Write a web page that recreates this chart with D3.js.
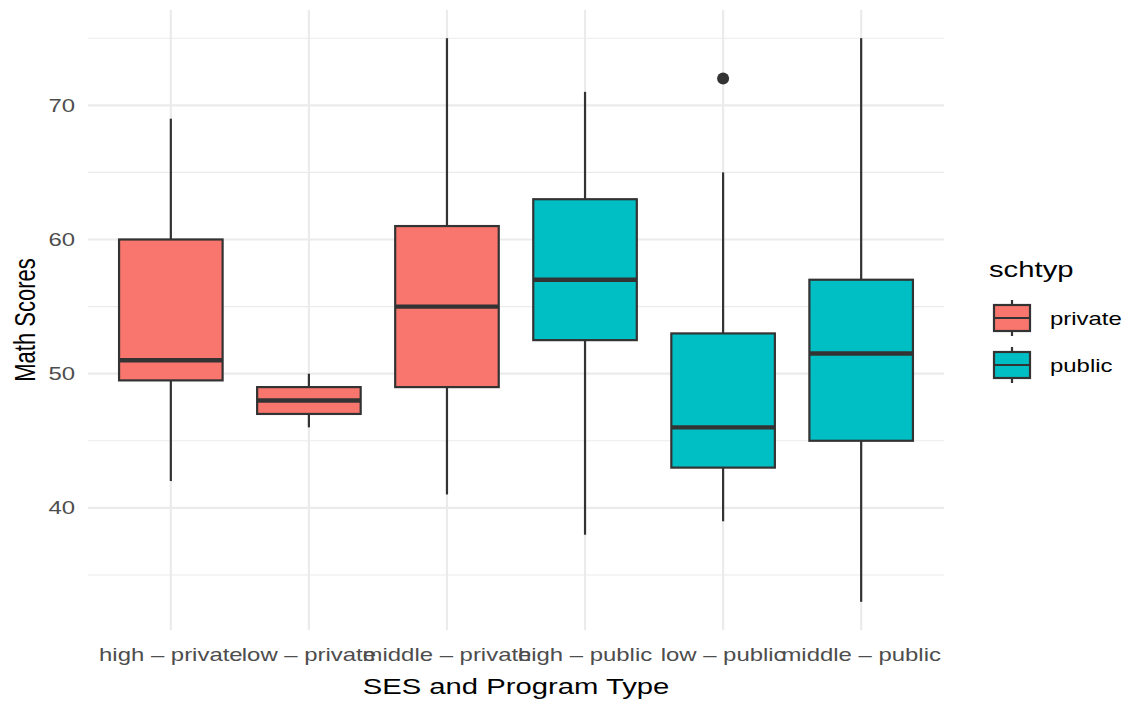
<!DOCTYPE html>
<html>
<head>
<meta charset="utf-8">
<script src="https://cdn.jsdelivr.net/npm/d3@7"></script>
<style>
  html, body { margin: 0; padding: 0; background: #fff; }
  svg { display: block; font-family: "Liberation Sans", Arial, Helvetica, sans-serif; }
</style>
</head>
<body>
<svg id="chart" width="1126" height="702"></svg>
<script>
// Group labels (SES – program type) and their school type
const categories = ["high – private", "low – private", "middle – private",
                    "high – public", "low – public", "middle – public"];
const schtyp = ["private", "private", "private", "public", "public", "public"];

// Five-number summaries per group
const whiskerLow  = [42, 46, 41, 38, 39, 33];
const q1          = [49.5, 47, 49, 52.5, 43, 45];
const median      = [51, 48, 55, 57, 46, 51.5];
const q3          = [60, 49, 61, 63, 53, 57];
const whiskerHigh = [69, 50, 75, 71, 65, 75];

// Outlying points
const outlierGroup = ["low – public"];
const outlierValue = [72];

const yTicks = [40, 50, 60, 70];
const yMinor = [35, 45, 55, 65, 75];
const legendLevels = ["private", "public"];
const fillColors = ["#F8766D", "#00BFC4"];

const svg = d3.select("#chart");
const W = 1126, H = 702;
const margin = { left: 88, right: W - 944, top: 10, bottom: H - 630 };
const TEXT_STRETCH = 1.33;   // wide text rendering

const plotL = margin.left, plotR = W - margin.right;
const plotT = margin.top, plotB = H - margin.bottom;

// Discrete x positions with 0.6-step expansion on each side
const x = d3.scalePoint()
  .domain(categories)
  .range([plotL, plotR])
  .padding(0.6);
const step = x.step();

const yMinData = d3.min(whiskerLow), yMaxData = d3.max(whiskerHigh);
const pad = (yMaxData - yMinData) * 0.05;
const y = d3.scaleLinear()
  .domain([yMinData - pad, yMaxData + pad])
  .range([plotB, plotT]);

const fill = d3.scaleOrdinal().domain(legendLevels).range(fillColors);

// Places a text element at (px, py) with the wide text rendering
function place(sel, px, py, rot) {
  return sel.attr("transform", (d, i) => {
    const xx = typeof px === "function" ? px(d, i) : px;
    const yy = typeof py === "function" ? py(d, i) : py;
    return `translate(${xx},${yy}) scale(${TEXT_STRETCH},1)` + (rot ? ` rotate(${rot})` : "");
  });
}

// Gridlines
const grid = svg.append("g");
grid.selectAll(".minor").data(yMinor).join("line")
  .attr("x1", plotL).attr("x2", plotR)
  .attr("y1", d => y(d)).attr("y2", d => y(d))
  .attr("stroke", "#ebebeb").attr("stroke-width", 1.1);
grid.selectAll(".major").data(yTicks).join("line")
  .attr("x1", plotL).attr("x2", plotR)
  .attr("y1", d => y(d)).attr("y2", d => y(d))
  .attr("stroke", "#ebebeb").attr("stroke-width", 2.2);
grid.selectAll(".vmajor").data(categories).join("line")
  .attr("x1", d => x(d)).attr("x2", d => x(d))
  .attr("y1", plotT).attr("y2", plotB)
  .attr("stroke", "#ebebeb").attr("stroke-width", 2.2);

// Boxplots
const boxW = step * 0.75;
const ink = "#333333";
const boxes = svg.append("g");
categories.forEach((c, i) => {
  const cx = x(c);
  const g = boxes.append("g");
  g.append("line")
    .attr("x1", cx).attr("x2", cx)
    .attr("y1", y(whiskerHigh[i])).attr("y2", y(q3[i]))
    .attr("stroke", ink).attr("stroke-width", 2.2);
  g.append("line")
    .attr("x1", cx).attr("x2", cx)
    .attr("y1", y(q1[i])).attr("y2", y(whiskerLow[i]))
    .attr("stroke", ink).attr("stroke-width", 2.2);
  g.append("rect")
    .attr("x", cx - boxW / 2).attr("width", boxW)
    .attr("y", y(q3[i])).attr("height", y(q1[i]) - y(q3[i]))
    .attr("fill", fill(schtyp[i])).attr("stroke", ink).attr("stroke-width", 2.2);
  g.append("line")
    .attr("x1", cx - boxW / 2).attr("x2", cx + boxW / 2)
    .attr("y1", y(median[i])).attr("y2", y(median[i]))
    .attr("stroke", ink).attr("stroke-width", 4.4);
});

// Outliers
svg.append("g").selectAll("circle").data(outlierValue).join("circle")
  .attr("cx", (d, i) => x(outlierGroup[i]))
  .attr("cy", d => y(d))
  .attr("r", 6)
  .attr("fill", ink);

// Y axis labels
place(svg.append("g").selectAll("text").data(yTicks).join("text"),
      plotL - 13, d => y(d))
  .attr("dy", "0.35em")
  .attr("text-anchor", "end")
  .attr("font-size", 18).attr("fill", "#4d4d4d")
  .text(d => d);

// X axis labels
place(svg.append("g").selectAll("text").data(categories).join("text"),
      d => x(d), plotB + 31)
  .attr("text-anchor", "middle")
  .attr("font-size", 18).attr("fill", "#4d4d4d")
  .text(d => d);

// Axis titles
place(svg.append("text"), (plotL + plotR) / 2, 694)
  .attr("text-anchor", "middle")
  .attr("font-size", 22).attr("fill", "#000")
  .text("SES and Program Type");
place(svg.append("text"), 35, (plotT + plotB) / 2, -90)
  .attr("text-anchor", "middle")
  .attr("font-size", 22).attr("fill", "#000")
  .text("Math Scores");

// Legend
const legend = svg.append("g").attr("transform", "translate(989,0)");
place(legend.append("text"), 0, 277)
  .attr("font-size", 22).attr("fill", "#000")
  .text("schtyp");
legendLevels.forEach((lev, i) => {
  const top = 300 + i * 47;
  const kx = 23;
  const k = legend.append("g");
  k.append("line").attr("x1", kx).attr("x2", kx)
    .attr("y1", top).attr("y2", top + 36)
    .attr("stroke", ink).attr("stroke-width", 2.2);
  k.append("rect")
    .attr("x", kx - 18).attr("width", 36)
    .attr("y", top + 5).attr("height", 26)
    .attr("fill", fill(lev)).attr("stroke", ink).attr("stroke-width", 2.2);
  k.append("line").attr("x1", kx - 18).attr("x2", kx + 18)
    .attr("y1", top + 18).attr("y2", top + 18)
    .attr("stroke", ink).attr("stroke-width", 2.2);
  place(k.append("text"), 61, top + 19)
    .attr("dy", "0.35em")
    .attr("font-size", 18).attr("fill", "#000")
    .text(lev);
});
</script>
</body>
</html>
